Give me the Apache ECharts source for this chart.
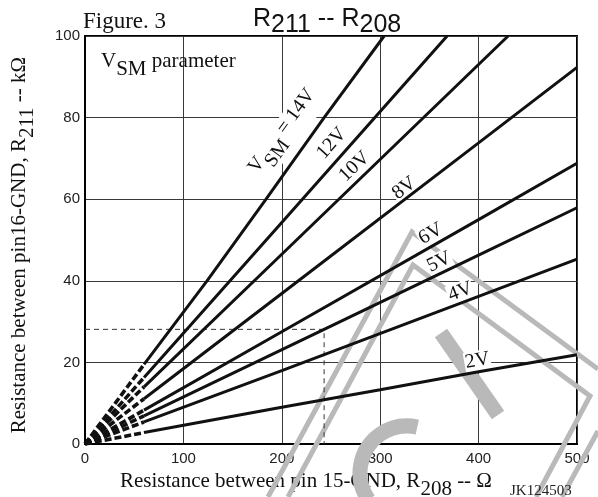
<!DOCTYPE html>
<html>
<head>
<meta charset="utf-8">
<script src="https://cdn.jsdelivr.net/npm/echarts@6/dist/echarts.min.js"></script>
<style>
  html, body { margin: 0; padding: 0; background: #fff; }
  #chart { width: 598px; height: 497px; }
</style>
</head>
<body>
<div id="chart"></div>
<script>
// R211 (kΩ) against R208 (Ω), one curve per VSM setting
const curveNames = ['14V', '12V', '10V', '8V', '6V', '5V', '4V', '2V'];
const curve14V = [[0, 0], [60, 19.5], [124, 40], [184, 60], [243, 80], [304, 100]];
const curve12V = [[0, 0], [60, 16.3], [200, 54.3], [368, 100]];
const curve10V = [[0, 0], [60, 14.0], [200, 46.5], [430, 100]];
const curve8V  = [[0, 0], [60, 11.1], [200, 36.9], [400, 73.8], [500, 92.3]];
const curve6V  = [[0, 0], [60, 8.3], [200, 27.5], [400, 55.0], [500, 68.8]];
const curve5V  = [[0, 0], [60, 6.9], [243, 28.1], [400, 46.3], [500, 57.9]];
const curve4V  = [[0, 0], [60, 5.4], [200, 18.0], [400, 36.2], [500, 45.3]];
const curve2V  = [[0, 0], [60, 2.8], [200, 9.0], [300, 13.3], [400, 17.7], [500, 21.9]];
const curves = [curve14V, curve12V, curve10V, curve8V, curve6V, curve5V, curve4V, curve2V];

// below this R208 the curves are extrapolated (drawn dashed)
const dashedBelow = 60;

// worked example: R208 = 243 Ω at VSM = 5V gives R211 = 28.1 kΩ
const exampleR208 = 243;
const exampleR211 = 28.1;

// where each curve's name sits (R208, R211)
const labelAnchors = [[204, 76.0], [250.7, 73.7], [274, 68.0], [324.5, 62.7], [351.5, 51.5], [360, 44.6], [381.5, 37.3], [398.8, 20.4]];

const xTicks = { min: 0, max: 500, step: 100 };
const yTicks = { min: 0, max: 100, step: 20 };

const SERIF = 'Liberation Serif, Times New Roman, serif';
const SANS = 'Liberation Sans, Arial, sans-serif';
const GRAY = '#b9b9b9';
const INK = '#111';

// rich styles: "b" is normal text, "s" is a subscript dropped by `drop` px
function subRich(size, font, drop) {
  const base = { fontSize: size, fontFamily: font, fontWeight: 'normal', color: INK };
  return {
    b: Object.assign({ lineHeight: size, verticalAlign: 'top' }, base),
    s: Object.assign({ lineHeight: size + 2 * drop, verticalAlign: 'bottom' }, base)
  };
}

function labelText(name) {
  return name === '14V' ? '{b|V}{s|SM}{b| = 14V}' : '{b|' + name + '}';
}

const chart = echarts.init(document.getElementById('chart'), null, { renderer: 'canvas' });

function buildSeries(angles) {
  const series = [];
  curves.forEach((pts, i) => {
    const dashPart = pts.filter(p => p[0] <= dashedBelow);
    const solidPart = pts.filter(p => p[0] >= dashedBelow);
    series.push({
      type: 'line', name: curveNames[i] + ' extrapolated', data: dashPart, symbol: 'none', z: 3,
      lineStyle: { color: INK, width: 3.6, type: [7, 3] }, silent: true
    });
    series.push({
      type: 'line', name: curveNames[i], data: solidPart, symbol: 'none', z: 3,
      lineStyle: { color: INK, width: 3 }, silent: true
    });
  });
  series.push({
    type: 'line', name: 'example', symbol: 'none', z: 2,
    data: [[xTicks.min, exampleR211], [exampleR208, exampleR211], [exampleR208, yTicks.min]],
    lineStyle: { color: '#333', width: 1, type: [5, 4] }, silent: true
  });
  series.push({
    type: 'scatter', name: 'curve names', symbolSize: 0, z: 2,
    itemStyle: { color: INK, opacity: 1 },
    data: labelAnchors.map((p, i) => ({
      value: p,
      label: {
        show: true, position: 'inside', rotate: angles[i],
        formatter: labelText(curveNames[i]),
        color: INK, textBorderWidth: 0, textShadowBlur: 0,
        backgroundColor: '#fff', padding: [0, 1],
        rich: subRich(20, SERIF, 5)
      }
    })),
    silent: true
  });
  return series;
}

const option = {
  animation: false,
  backgroundColor: '#fff',
  title: [
    { text: 'Figure. 3', left: 83, top: 10, padding: 0, textStyle: { fontFamily: SERIF, fontSize: 23, fontWeight: 'normal', color: INK } },
    { text: '{b|R}{s|211}{b| -- R}{s|208}', left: 253, top: 7, padding: 0,
      textStyle: { rich: subRich(25, SANS, 3) } },
    { text: '{b|V}{s|SM}{b| parameter}', left: 101, top: 51, padding: 0,
      textStyle: { rich: subRich(21, SERIF, 4) } },
    { text: 'JK124503', left: 510, top: 484, padding: 0, textStyle: { fontFamily: SERIF, fontSize: 15, fontWeight: 'normal', color: '#222' } }
  ],
  grid: {
    left: 85, right: 21, top: 36, bottom: 53, containLabel: false, outerBoundsMode: 'none',
    show: true, borderColor: '#000', borderWidth: 2
  },
  xAxis: {
    type: 'value', min: xTicks.min, max: xTicks.max, interval: xTicks.step,
    axisLine: { show: true, onZero: false, lineStyle: { color: '#000', width: 2 } },
    axisTick: { show: false },
    splitLine: { show: true, lineStyle: { color: '#3a3a3a', width: 1 } },
    axisLabel: { fontFamily: SANS, fontSize: 15, color: '#222', margin: 7 },
    name: '{b|Resistance between pin 15-GND, R}{s|208}{b| -- Ω}',
    nameLocation: 'middle', nameGap: 27,
    nameTextStyle: { padding: [0, 50, 0, 0], rich: subRich(21, SERIF, 4) }
  },
  yAxis: {
    type: 'value', min: yTicks.min, max: yTicks.max, interval: yTicks.step,
    axisLine: { show: true, onZero: false, lineStyle: { color: '#000', width: 2 } },
    axisTick: { show: false },
    splitLine: { show: true, lineStyle: { color: '#3a3a3a', width: 1 } },
    axisLabel: { fontFamily: SANS, fontSize: 15, color: '#222', margin: 5 },
    name: '{b|Resistance between pin16-GND, R}{s|211}{b| -- kΩ}',
    nameLocation: 'middle', nameGap: 47, nameRotate: 90,
    nameTextStyle: { padding: [0, 10, 0, 0], rich: subRich(21, SERIF, 4) }
  },
  // faint stamp outline and lettering across the lower right
  graphic: {
    elements: [
      { type: 'polyline', z: 1, silent: true, shape: { points: [[268, 497], [412, 232], [598, 369]] }, style: { stroke: GRAY, lineWidth: 5, fill: null } },
      { type: 'polyline', z: 1, silent: true, shape: { points: [[598, 431], [562, 497]] }, style: { stroke: GRAY, lineWidth: 5, fill: null } },
      { type: 'polyline', z: 1, silent: true, shape: { points: [[288, 497], [413, 265], [590, 396], [536, 497]] }, style: { stroke: GRAY, lineWidth: 5, fill: null } },
      { type: 'line', z: 1, silent: true, shape: { x1: 441, y1: 333, x2: 498, y2: 415 }, style: { stroke: GRAY, lineWidth: 15 } },
      { type: 'arc', z: 1, silent: true, shape: { cx: 407, cy: 473, r: 47, startAngle: -3.75, endAngle: -1.35, clockwise: true }, style: { stroke: GRAY, lineWidth: 15, fill: null } }
    ]
  },
  series: buildSeries(labelAnchors.map(() => 0))
};

chart.setOption(option);

// rotate each curve name to follow its curve on screen
const angles = curves.map(pts => {
  const a = chart.convertToPixel({ gridIndex: 0 }, pts[1]);
  const b = chart.convertToPixel({ gridIndex: 0 }, pts[pts.length - 1]);
  return Math.atan2(a[1] - b[1], b[0] - a[0]) * 180 / Math.PI;
});
chart.setOption({ series: buildSeries(angles) });
</script>
</body>
</html>
